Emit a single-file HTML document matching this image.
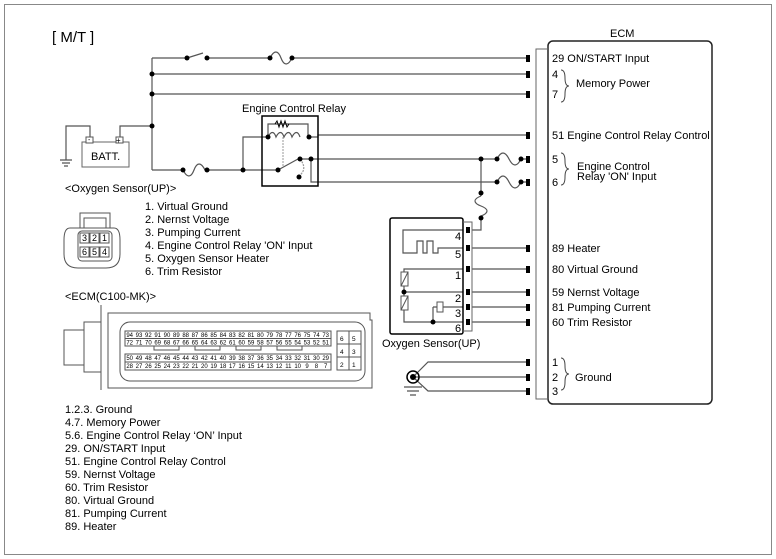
<!DOCTYPE html>
<html><head><style>body{margin:0;background:#fff}svg{display:block}text{font-family:"Liberation Sans",sans-serif;fill:#000}</style></head><body>
<svg width="776" height="559" viewBox="0 0 776 559" xmlns="http://www.w3.org/2000/svg">
<rect x="4.5" y="4.5" width="767" height="550" fill="none" stroke="#888" stroke-width="1"/>
<text x="52" y="42" font-size="15">[ M/T ]</text>
<g stroke="#555" stroke-width="1.2" fill="none">
<path d="M152 58V170"/>
<path d="M152 58H187M207 58H270M292 58H528"/>
<path d="M187 58L203 53"/>
<path d="M270 58c4 -8 8 -8 11 0s7 8 11 0"/>
<path d="M152 74H528M152 94H528"/>
<path d="M152 126H120V137M90 137V126H66V160"/>
<path d="M60 160h12M62 163h8M64 166h4"/>
<path d="M152 170H183M207 170H279"/>
<path d="M183 170c4 8 8 8 11 0s7 -8 11 0"/>
<path d="M243 170V137H268M309 137H318V135H528"/>
<path d="M278 170L298 159M300 159H497M521 159H528M311 159V182H497M521 182H528"/>
<path d="M268 137V124H308V137"/>
<path d="M268 137c3-6 6-6 8 0c3-6 6-6 8 0c3-6 6-6 8 0c3-6 6-6 8 0" />
<path d="M283 137V166" stroke-dasharray="2 1" stroke="#aaa"/>
<path d="M300 159q8 10 -1 17" stroke-dasharray="2 1" stroke="#999"/>
<path d="M481 159V196"/>
<path d="M481 196c-8 3-8 7 0 10s8 7 0 10V230H472"/>
<path d="M497 159c4 -8 8 -8 12 0s8 8 12 0"/>
<path d="M497 182c4 -8 8 -8 12 0s8 8 12 0"/>
<path d="M472 248H528M472 269H528M472 292H528M472 307H528M472 322H528"/>
<path d="M463 230H403V253H417V241H423V253H427V241H433V253H438V248H463"/>
<path d="M463 269H404V308M404 292H463M404 308V322H463"/>
<path d="M433 307V322M433 307H437M443 307H463"/>
<path d="M413 377L428 362H528M413 377H528M413 377L428 391H528"/>
<path d="M404 387h18M407 391h12M410 395h6"/>
</g>
<g fill="#fff" stroke="#555" stroke-width="1">
<rect x="401" y="272" width="7" height="14"/><rect x="401" y="296" width="7" height="14"/>
<rect x="437" y="302" width="6" height="10"/>
</g>
<path d="M401 286L408 272M401 310L408 296" stroke="#555"/>
<circle cx="413" cy="377" r="6" fill="none" stroke="#000" stroke-width="1.5"/><circle cx="413" cy="377" r="3" fill="#000"/>
<g fill="#000">
<circle cx="152" cy="74" r="2.5"/><circle cx="152" cy="94" r="2.5"/><circle cx="152" cy="126" r="2.5"/>
<circle cx="187" cy="58" r="2.5"/><circle cx="207" cy="58" r="2.5"/><circle cx="270" cy="58" r="2.5"/><circle cx="292" cy="58" r="2.5"/>
<circle cx="183" cy="170" r="2.5"/><circle cx="207" cy="170" r="2.5"/><circle cx="243" cy="170" r="2.5"/><circle cx="278" cy="170" r="2.5"/>
<circle cx="268" cy="137" r="2.5"/><circle cx="309" cy="137" r="2.5"/><circle cx="300" cy="159" r="2.5"/><circle cx="311" cy="159" r="2.5"/><circle cx="299" cy="177" r="2.5"/>
<circle cx="481" cy="159" r="2.5"/><circle cx="497" cy="159" r="2.5"/><circle cx="521" cy="159" r="2.5"/><circle cx="497" cy="182" r="2.5"/><circle cx="521" cy="182" r="2.5"/>
<circle cx="481" cy="193" r="2.5"/><circle cx="481" cy="218" r="2.5"/>
<circle cx="404" cy="292" r="2.5"/><circle cx="433" cy="322" r="2.5"/>
</g>
<rect x="262" y="116" width="56" height="70" fill="none" stroke="#000" stroke-width="1.5"/>
<path d="M275 124l2-3 2 6 2-6 2 6 2-6 2 6 2-3" stroke="#000" fill="none"/>
<text x="242" y="112" font-size="11">Engine Control Relay</text>
<rect x="82" y="142" width="47" height="25" fill="none" stroke="#666"/>
<rect x="86" y="137" width="7" height="6" fill="#fff" stroke="#555"/><rect x="116" y="137" width="7" height="6" fill="#fff" stroke="#555"/>
<text x="88" y="142" font-size="7">-</text><text x="116" y="143" font-size="8">+</text>
<text x="91" y="160" font-size="11">BATT.</text>
<text x="610" y="37" font-size="11">ECM</text>
<rect x="548" y="41" width="164" height="363" rx="5" fill="none" stroke="#222" stroke-width="1.5"/>
<path d="M548 49H536V399H548" fill="none" stroke="#666"/>
<g fill="#000">
<rect x="526" y="55" width="4" height="7"/><rect x="526" y="71" width="4" height="7"/><rect x="526" y="91" width="4" height="7"/><rect x="526" y="132" width="4" height="7"/><rect x="526" y="156" width="4" height="7"/><rect x="526" y="179" width="4" height="7"/><rect x="526" y="245" width="4" height="7"/><rect x="526" y="266" width="4" height="7"/><rect x="526" y="289" width="4" height="7"/><rect x="526" y="304" width="4" height="7"/><rect x="526" y="319" width="4" height="7"/><rect x="526" y="359" width="4" height="7"/><rect x="526" y="374" width="4" height="7"/><rect x="526" y="388" width="4" height="7"/>
</g>
<g font-size="11">
<text x="552" y="62">29 ON/START Input</text>
<text x="552" y="78">4</text><text x="552" y="98">7</text><text x="576" y="87">Memory Power</text>
<text x="552" y="139">51 Engine Control Relay Control</text>
<text x="552" y="163">5</text><text x="552" y="186">6</text>
<text x="577" y="170">Engine Control</text><text x="577" y="180">Relay 'ON' Input</text>
<text x="552" y="252">89 Heater</text><text x="552" y="273">80 Virtual Ground</text><text x="552" y="296">59 Nernst Voltage</text><text x="552" y="311">81 Pumping Current</text><text x="552" y="326">60 Trim Resistor</text>
<text x="552" y="366">1</text><text x="552" y="381">2</text><text x="552" y="395">3</text><text x="575" y="381">Ground</text>
</g>
<g fill="none" stroke="#444">
<path d="M561 70q4 0 4 8t4 8q-4 0-4 8t-4 8"/>
<path d="M561 153q4 0 4 8t4 8q-4 0-4 8t-4 8"/>
<path d="M561 358q4 0 4 8t4 8q-4 0-4 8t-4 8"/>
</g>
<rect x="390" y="218" width="73" height="116" rx="2" fill="none" stroke="#000" stroke-width="1.5"/>
<path d="M463 222H472V331H463" fill="none" stroke="#666"/>
<g fill="#000"><rect x="466" y="227" width="4" height="6"/><rect x="466" y="245" width="4" height="6"/><rect x="466" y="266" width="4" height="6"/><rect x="466" y="289" width="4" height="6"/><rect x="466" y="304" width="4" height="6"/><rect x="466" y="319" width="4" height="6"/></g>
<g font-size="11"><text x="455" y="240">4</text><text x="455" y="258">5</text><text x="455" y="279">1</text><text x="455" y="302">2</text><text x="455" y="317">3</text><text x="455" y="332">6</text></g>
<text x="382" y="347" font-size="11">Oxygen Sensor(UP)</text>
<g font-size="11">
<text x="65" y="192">&lt;Oxygen Sensor(UP)&gt;</text>
<text x="145" y="210">1. Virtual Ground</text><text x="145" y="223">2. Nernst Voltage</text><text x="145" y="236">3. Pumping Current</text><text x="145" y="249">4. Engine Control Relay 'ON' Input</text><text x="145" y="262">5. Oxygen Sensor Heater</text><text x="145" y="275">6. Trim Resistor</text>
<text x="65" y="300">&lt;ECM(C100-MK)&gt;</text>
<text x="65" y="413">1.2.3. Ground</text><text x="65" y="426">4.7. Memory Power</text><text x="65" y="439">5.6. Engine Control Relay ‘ON’ Input</text><text x="65" y="452">29. ON/START Input</text><text x="65" y="465">51. Engine Control Relay Control</text><text x="65" y="478">59. Nernst Voltage</text><text x="65" y="491">60. Trim Resistor</text><text x="65" y="504">80. Virtual Ground</text><text x="65" y="517">81. Pumping Current</text><text x="65" y="530">89. Heater</text>
</g>
<g fill="none" stroke="#555">
<path d="M70 228q-6 0-6 12v14q0 14 14 14h28q14 0 14-14v-14q0-12-6-12z"/>
<rect x="80" y="213" width="30" height="15"/><rect x="84" y="218" width="22" height="10"/>
<rect x="78" y="231" width="34" height="30" rx="4"/>
</g>
<g font-size="9" text-anchor="middle">
<rect x="80" y="233" width="9" height="10" fill="none" stroke="#555"/><rect x="90" y="233" width="9" height="10" fill="none" stroke="#555"/><rect x="100" y="233" width="9" height="10" fill="none" stroke="#555"/>
<rect x="80" y="247" width="9" height="10" fill="none" stroke="#555"/><rect x="90" y="247" width="9" height="10" fill="none" stroke="#555"/><rect x="100" y="247" width="9" height="10" fill="none" stroke="#555"/>
<text x="84.5" y="241">3</text><text x="94.5" y="241">2</text><text x="104.5" y="241">1</text>
<text x="84.5" y="255">6</text><text x="94.5" y="255">5</text><text x="104.5" y="255">4</text>
</g>
<g fill="none" stroke="#555">
<path d="M108 313H370V320H372V388H108Z"/>
<rect x="120" y="322" width="245" height="59" rx="10"/>
<path d="M101 305V390M101 322H84V372H101M84 330H64V365H84"/>
<rect x="337" y="331" width="24" height="39"/>
<path d="M349 331V370M337 344H361M337 357H361"/>
<rect x="125" y="331" width="206" height="15"/><rect x="125" y="354" width="206" height="16"/>
<path d="M125 338.5H331M125 362H331"/>
<path d="M154 346v4h25v-4M195 346v4h25v-4M236 346v4h25v-4M277 346v4h25v-4"/>
</g>
<g font-size="6.5">
<text x="340" y="341">6</text><text x="352" y="341">5</text><text x="340" y="354">4</text><text x="352" y="354">3</text><text x="340" y="367">2</text><text x="352" y="367">1</text>
</g>
<g font-size="6" text-anchor="middle" fill="#000">
<text y="337"><tspan x="129.7">94</tspan><tspan x="139">93</tspan><tspan x="148.4">92</tspan><tspan x="157.7">91</tspan><tspan x="167">90</tspan><tspan x="176.4">89</tspan><tspan x="185.7">88</tspan><tspan x="195">87</tspan><tspan x="204.4">86</tspan><tspan x="213.7">85</tspan><tspan x="223">84</tspan><tspan x="232.4">83</tspan><tspan x="241.7">82</tspan><tspan x="251">81</tspan><tspan x="260.4">80</tspan><tspan x="269.7">79</tspan><tspan x="279">78</tspan><tspan x="288.4">77</tspan><tspan x="297.7">76</tspan><tspan x="307">75</tspan><tspan x="316.4">74</tspan><tspan x="325.7">73</tspan></text>
<text y="344.5"><tspan x="129.7">72</tspan><tspan x="139">71</tspan><tspan x="148.4">70</tspan><tspan x="157.7">69</tspan><tspan x="167">68</tspan><tspan x="176.4">67</tspan><tspan x="185.7">66</tspan><tspan x="195">65</tspan><tspan x="204.4">64</tspan><tspan x="213.7">63</tspan><tspan x="223">62</tspan><tspan x="232.4">61</tspan><tspan x="241.7">60</tspan><tspan x="251">59</tspan><tspan x="260.4">58</tspan><tspan x="269.7">57</tspan><tspan x="279">56</tspan><tspan x="288.4">55</tspan><tspan x="297.7">54</tspan><tspan x="307">53</tspan><tspan x="316.4">52</tspan><tspan x="325.7">51</tspan></text>
<text y="360"><tspan x="129.7">50</tspan><tspan x="139">49</tspan><tspan x="148.4">48</tspan><tspan x="157.7">47</tspan><tspan x="167">46</tspan><tspan x="176.4">45</tspan><tspan x="185.7">44</tspan><tspan x="195">43</tspan><tspan x="204.4">42</tspan><tspan x="213.7">41</tspan><tspan x="223">40</tspan><tspan x="232.4">39</tspan><tspan x="241.7">38</tspan><tspan x="251">37</tspan><tspan x="260.4">36</tspan><tspan x="269.7">35</tspan><tspan x="279">34</tspan><tspan x="288.4">33</tspan><tspan x="297.7">32</tspan><tspan x="307">31</tspan><tspan x="316.4">30</tspan><tspan x="325.7">29</tspan></text>
<text y="368"><tspan x="129.7">28</tspan><tspan x="139">27</tspan><tspan x="148.4">26</tspan><tspan x="157.7">25</tspan><tspan x="167">24</tspan><tspan x="176.4">23</tspan><tspan x="185.7">22</tspan><tspan x="195">21</tspan><tspan x="204.4">20</tspan><tspan x="213.7">19</tspan><tspan x="223">18</tspan><tspan x="232.4">17</tspan><tspan x="241.7">16</tspan><tspan x="251">15</tspan><tspan x="260.4">14</tspan><tspan x="269.7">13</tspan><tspan x="279">12</tspan><tspan x="288.4">11</tspan><tspan x="297.7">10</tspan><tspan x="307">9</tspan><tspan x="316.4">8</tspan><tspan x="325.7">7</tspan></text>
</g>
</svg>
</body></html>
